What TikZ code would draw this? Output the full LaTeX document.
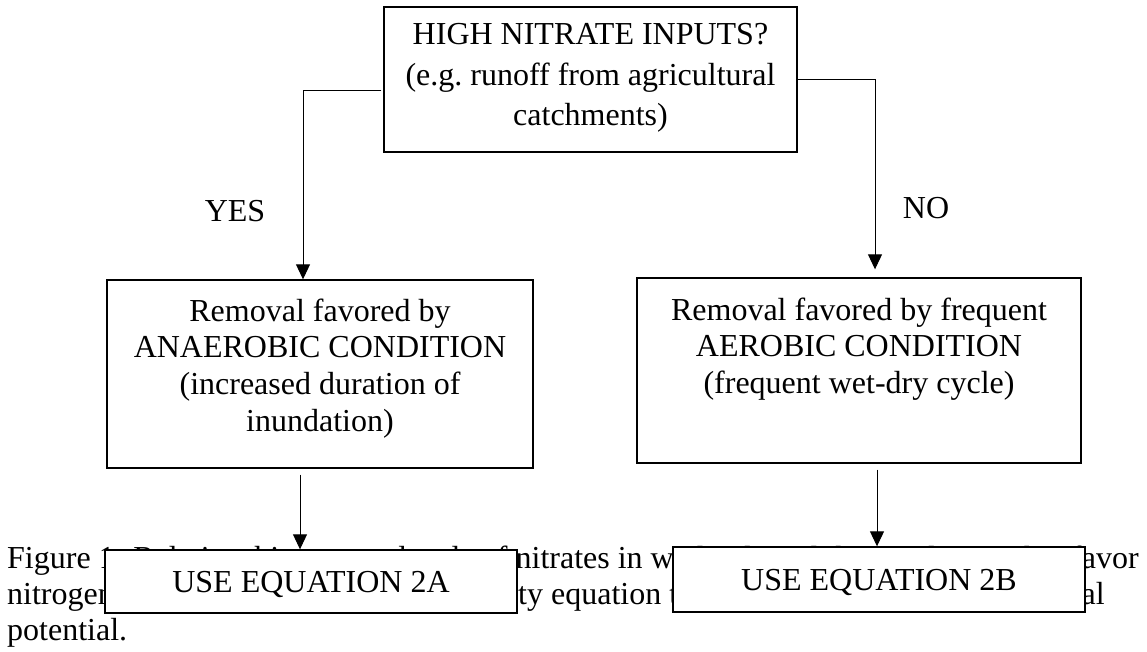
\documentclass[tikz,border=0pt]{standalone}
\usepackage{fontspec}
\setmainfont{Liberation Serif}
\usetikzlibrary{arrows.meta}
\begin{document}
\begin{tikzpicture}[x=1pt,y=-1pt,
  box/.style={draw,line width=1.4pt,rectangle,inner sep=0pt},
  txt/.style={inner sep=0pt,anchor=base,font=\fontsize{32}{36.7}\selectfont},
  conn/.style={line width=1pt},
  arr/.style={conn,-{Triangle[width=14pt,length=15pt]}}]
\path[fill=white,use as bounding box] (0,0) rectangle (1147,651);

% top decision box
\node[box,minimum width=413pt,minimum height=145pt] (top) at (590.5,79.5) {};
\node[txt] (t1) at (590.5,44.5) {HIGH NITRATE INPUTS?};
\node[txt] (t2) at (590.5,85) {(e.g.\ runoff from agricultural};
\node[txt] (t3) at (590.5,125) {catchments)};

% left box
\node[box,minimum width=426pt,minimum height=188pt] (lbox) at (320,374) {};
\node[txt] (l1) at (320,321) {Removal favored by};
\node[txt] (l2) at (320,357.7) {ANAEROBIC CONDITION};
\node[txt] (l3) at (320,394.4) {(increased duration of};
\node[txt] (l4) at (320,431.1) {inundation)};

% right box
\node[box,minimum width=444pt,minimum height=185pt] (rbox) at (859,370.5) {};
\node[txt] (r1) at (859,320) {Removal favored by frequent};
\node[txt] (r2) at (859,356.5) {AEROBIC CONDITION};
\node[txt] (r3) at (859,393) {(frequent wet-dry cycle)};

% branch labels
\node[txt] (yes) at (235,221) {YES};
\node[txt] (no) at (926,218) {NO};

% connectors from decision box
\draw[arr] ([xshift=-2pt,yshift=-10.5pt]top.west) -| ([xshift=-17pt]lbox.north);
\draw[arr] (top.east) -| ([xshift=16pt,yshift=8pt]rbox.north);

% caption (partly hidden behind the equation boxes)
\node[txt,anchor=base west] (c1) at (7,568) {Figure 1. Relationship among levels of nitrates in wetlands and the conditions that favor};
\node[txt,anchor=base west] (c2a) at (7,604) {nitrogen};
\node[txt,anchor=base west] (c2b) at (454,604) {quality equation to};
\node[txt,anchor=base east] (c2c) at (1105,604) {removal};
\node[txt,anchor=base west] (c3) at (7,640.5) {potential.};

% equation boxes
\node[box,fill=white,minimum width=412pt,minimum height=63pt] (eqa) at (311,581.5) {};
\node[txt] (eqat) at (311,592.5) {USE EQUATION 2A};
\node[box,fill=white,minimum width=412pt,minimum height=65pt] (eqb) at (879,579.5) {};
\node[txt] (eqbt) at (879,590.5) {USE EQUATION 2B};

% lower arrows
\draw[arr] ([xshift=-20pt,yshift=-6pt]lbox.south) -- ([xshift=-11pt]eqa.north);
\draw[arr] ([xshift=18pt,yshift=-6pt]rbox.south) -- ([xshift=-2pt]eqb.north);
\end{tikzpicture}
\end{document}
